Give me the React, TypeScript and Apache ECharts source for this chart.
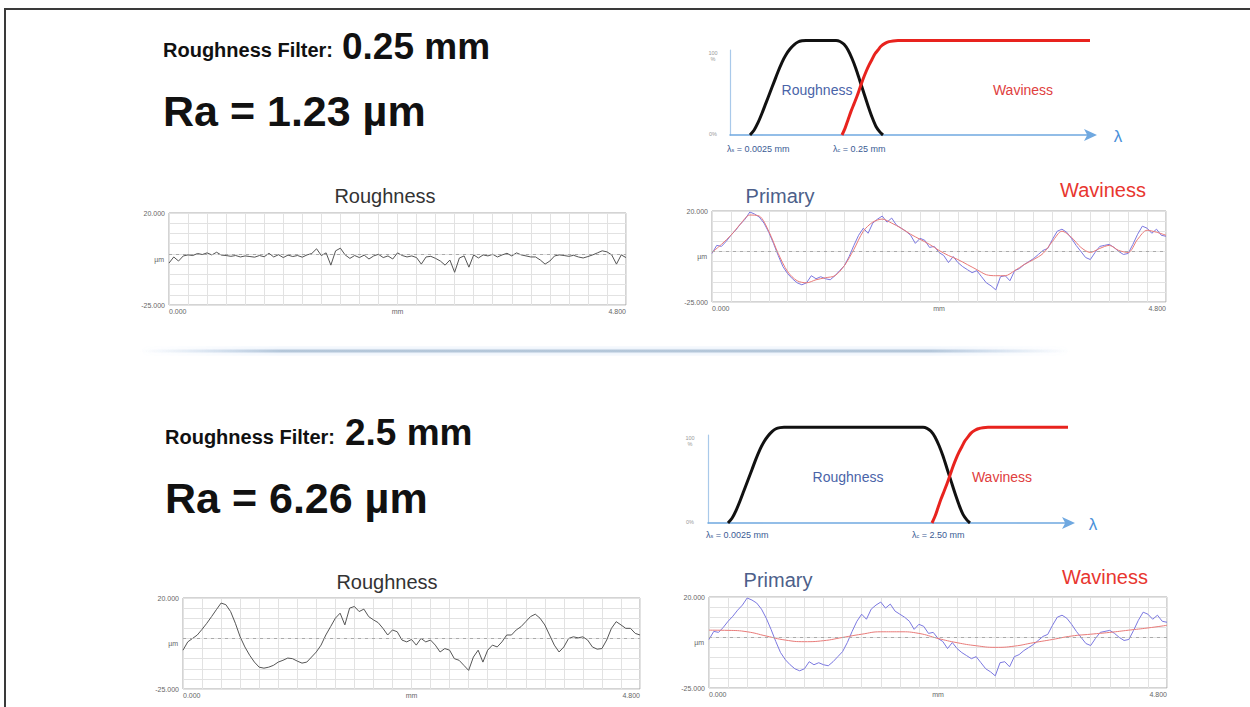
import React, { useEffect, useRef } from "react";
import * as echarts from "echarts";

// ---------- DATA ----------
// Profile sampling positions (mm)
const distanceMm = [0,0.05,0.1,0.15,0.2,0.25,0.3,0.35,0.4,0.45,0.5,0.55,0.6,0.65,0.7,0.75,0.8,0.85,0.9,0.95,1,1.05,1.1,1.15,1.2,1.25,1.3,1.35,1.4,1.45,1.5,1.55,1.6,1.65,1.7,1.75,1.8,1.85,1.9,1.95,2,2.05,2.1,2.15,2.2,2.25,2.3,2.35,2.4,2.45,2.5,2.55,2.6,2.65,2.7,2.75,2.8,2.85,2.9,2.95,3,3.05,3.1,3.15,3.2,3.25,3.3,3.35,3.4,3.45,3.5,3.55,3.6,3.65,3.7,3.75,3.8,3.85,3.9,3.95,4,4.05,4.1,4.15,4.2,4.25,4.3,4.35,4.4,4.45,4.5,4.55,4.6,4.65,4.7,4.75,4.8];

// Primary profile (µm) — same measured profile in both rows
const primaryProfile = [-1,3,2.5,5,8,10.5,13.5,16,19.5,18.5,17,14,9.5,4,-2,-7.5,-11,-13.5,-15.5,-16.5,-15.5,-12,-13.5,-12.5,-13.5,-14,-12,-9.5,-7,-2.5,3,8,11.5,9,14,16,17.5,14.5,16.5,13,11.5,10,8,4,6.5,5.5,2,2.5,-0.5,-2,-5.5,-2.5,-5.5,-7.5,-9,-10.5,-9.5,-12.5,-15.5,-17,-19,-12.5,-12,-14.5,-9.5,-8.5,-6.5,-5,-3.5,-1.5,0.5,1.5,6,10,11,9.5,6.5,3,0,-3,-4,-0.5,2.5,3,3.5,2,0,-1.5,-1,3.5,8.5,12.5,11.5,9,11,8,7.5];

// Roughness with 0.25 mm filter (µm)
const roughnessFine = [-4.5,-1.5,-3.5,-1,-0.5,-0.8,0.2,-0.3,0.5,-0.5,0.8,-0.6,-0.8,-1.2,-0.8,-1.5,-1,-1.3,-1.6,-0.8,-1.4,0.3,-1.5,-0.4,-1.8,-0.6,-1.3,-0.8,-1.6,-0.5,0.2,2.5,-0.8,0.5,-5.5,1.5,2.8,-0.5,-2.2,-0.8,-1.8,-0.6,-2.5,-1,-0.2,-1.8,-1,-2.5,0.5,-0.8,-1.5,-1,-1.8,-5,-1.5,-1.2,-2.2,-3.5,-5.5,-3,-9,-2,-1,-6.5,-0.5,-2,-0.5,-1,-0.2,-1.5,-0.5,0.3,-1,0.5,-0.5,-1,-1.5,-1.5,-3,-5,-3.5,-1,-0.5,-0.8,-1.2,-0.7,-1.5,-2,-1.3,-0.5,0.5,1.5,1,-0.5,-5,-0.5,-1.8];

// Roughness with 2.5 mm filter (µm)
const roughnessCoarse = [-5.8,-1.7,0,1.7,4.5,7.5,10.8,14.2,17.5,16.7,13.3,7.5,0.8,-4.2,-8.3,-11.7,-14.2,-14.7,-14.2,-13.3,-11.7,-10.8,-9.7,-10,-11.2,-12.2,-11.7,-9.2,-6.7,-3.3,1.7,5.8,10,12.5,6.7,15,15.8,13.3,14.5,10.8,9.2,7.8,5,1.7,4.2,3.3,-0.8,-1.7,-0.5,-3.3,0,-1.7,-0.8,-3.3,-6.7,-5,-5.8,-10,-10.8,-13.3,-15.8,-9.2,-5.8,-11.7,-5.8,-3.3,-4.2,-1.7,1.7,1.7,4.2,5.8,8.3,10.8,12,10,6.7,1.7,-3.3,-6.7,-4.2,0,0.8,0.3,0.8,-0.8,-4.2,-5.3,-5,-0.8,5,8.3,6.7,5,5,2.5,1.7];

// Waviness with 0.25 mm filter (µm)
const wavinessFineMm = [0,0.1,0.2,0.3,0.4,0.5,0.6,0.7,0.8,0.9,1,1.1,1.2,1.3,1.4,1.5,1.6,1.7,1.8,1.9,2,2.1,2.2,2.3,2.4,2.5,2.6,2.7,2.8,2.9,3,3.1,3.2,3.3,3.4,3.5,3.6,3.7,3.8,3.9,4,4.1,4.2,4.3,4.4,4.5,4.6,4.7,4.8];
const wavinessFine = [-0.5,3.5,8,13.5,18,17.5,10,-1,-10,-14.5,-15.5,-14,-13,-12,-7,1,10,14.5,16,14,11.5,8.5,6,3.5,0.5,-2,-4,-6.5,-9,-11.5,-12,-12,-9.5,-6.5,-4,-1,5,10,7,2,-0.5,1.5,3,0.5,-0.5,6,10.5,9.5,8];

// Waviness with 2.5 mm filter (µm)
const wavinessCoarseMm = [0,0.2,0.4,0.6,0.8,1,1.2,1.4,1.6,1.8,2,2.2,2.4,2.6,2.8,3,3.2,3.4,3.6,3.8,4,4.2,4.4,4.6,4.8];
const wavinessCoarse = [3.6,3.5,2.8,0.7,-1.3,-2.1,-1.6,0,1.6,2.8,2.8,2,-0.5,-2.6,-4.1,-4.9,-4.3,-2.6,-1,0.7,1.6,2.5,3.6,4.7,6];

// Filter transmission curves (wavelength position along axis, % transmitted)
const roughFilterFineX = [20,24,28,32,36,40,44,48,52,56,60,64,68,72,76,106,110,114,118,122,126,130,134,138,142,146,150,153];
const roughFilterFineY = [0,5,13,23,34,45,56,67,77,85,91,95.5,98.5,99.7,100,100,99,96,90,81,70,57,44,31,19,9,3,0];
const wavFilterFineX = [112,115,118,121,124,127,130,133,136,139,142,145,148,151,155,159,163,168,360];
const wavFilterFineY = [0,7,16,25,33,41,50,59,67,74,80,86,90,94,97,98.8,99.6,100,100];
const roughFilterCoarseX = [20,24,28,32,36,40,44,48,52,56,60,64,68,72,76,215,219,223,227,231,235,239,243,247,251,255,259,262];
const roughFilterCoarseY = [0,5,13,23,34,45,56,67,77,85,91,95.5,98.5,99.7,100,100,99,96,90,81,70,57,44,31,19,9,3,0];
const wavFilterCoarseX = [224,227,230,233,236,239,242,245,248,251,254,257,260,263,267,271,275,280,360];
const wavFilterCoarseY = [0,7,16,25,33,41,50,59,67,74,80,86,90,94,97,98.8,99.6,100,100];

// Tick labels
const xEndLabels = ["0.000", "4.800"];
const yEndLabels = ["20.000", "-25.000"];
const xName = "mm";
const yName = "µm";

// ---------- HELPERS ----------
const FONT = "'Liberation Sans', Arial, Helvetica, sans-serif";
const pair = (xs: number[], ys: number[]) => xs.map((x, i) => [x, ys[i]]);

const profileGrids = [
  { left: 169, top: 213, width: 457, height: 92 },
  { left: 712, top: 211, width: 454, height: 91 },
  { left: 183, top: 598, width: 457, height: 91 },
  { left: 709, top: 597, width: 458, height: 91 },
];

function profileX(gridIndex: number) {
  return {
    type: "value", gridIndex, min: 0, max: 4.8, interval: 0.2,
    name: xName, nameLocation: "middle", nameGap: 3, nameMoveOverlap: false,
    nameTextStyle: { fontSize: 7, color: "#666", fontFamily: FONT, verticalAlign: "top" },
    axisLine: { show: false }, axisTick: { show: false },
    axisLabel: {
      fontSize: 7, color: "#666", fontFamily: FONT, margin: 3,
      alignMinLabel: "left", alignMaxLabel: "right",
      formatter: (v: number) => (Math.abs(v) < 1e-6 ? xEndLabels[0] : Math.abs(v - 4.8) < 1e-6 ? xEndLabels[1] : ""),
    },
    splitLine: { show: true, lineStyle: { color: "#e2e2e2", width: 1 } },
  };
}
function profileY(gridIndex: number) {
  return {
    type: "value", gridIndex, min: -25, max: 20, interval: 5,
    name: yName, nameLocation: "middle", nameGap: 5, nameRotate: 0, nameMoveOverlap: false,
    nameTextStyle: { fontSize: 7, color: "#666", fontFamily: FONT, align: "right" },
    axisLine: { show: false }, axisTick: { show: false },
    axisLabel: {
      fontSize: 7, color: "#666", fontFamily: FONT, margin: 4,
      formatter: (v: number) => (v === 20 ? yEndLabels[0] : v === -25 ? yEndLabels[1] : ""),
    },
    splitLine: { show: true, lineStyle: { color: "#e2e2e2", width: 1 } },
  };
}
const zeroLine = {
  silent: true, symbol: "none", label: { show: false },
  lineStyle: { type: [3, 4], color: "#aaa", width: 1 },
  data: [{ yAxis: 0 }],
};
function profileLine(idx: number, data: any, color: string, smooth: any, withZero: boolean) {
  return {
    type: "line", xAxisIndex: idx, yAxisIndex: idx, data, showSymbol: false, symbol: "none",
    smooth, lineStyle: { color, width: 1 }, z: 3,
    markLine: withZero ? zeroLine : undefined,
  };
}

function text(x: number, y: number, t: string, size: number, color: string, opts: any = {}) {
  return {
    type: "text", x, y, z: 10,
    style: { text: t, fontSize: size, fontFamily: FONT, fill: color, verticalAlign: "middle", align: "left", ...opts },
  };
}
function lambdaLabel(x: number, y: number, sub: string, rest: string) {
  return {
    type: "text", x, y, z: 10,
    style: {
      text: `{l|λ}{s|${sub}}{l| = ${rest}}`, verticalAlign: "middle", align: "left",
      rich: {
        l: { fontSize: 9, fontFamily: FONT, fill: "#3b5b94", lineHeight: 12, verticalAlign: "bottom" },
        s: { fontSize: 5.5, fontFamily: FONT, fill: "#3b5b94", lineHeight: 12, verticalAlign: "bottom" },
      },
    },
  };
}

export default function App() {
  const ref = useRef<HTMLDivElement>(null);
  useEffect(() => {
    if (!ref.current) return;
    const chart = echarts.init(ref.current, undefined, { renderer: "svg" });

    const diagramAxisColor = "#6fa8e0";
    const diagX = (gridIndex: number) => ({
      type: "value", gridIndex, min: 0, max: 360,
      axisLine: { show: true, symbol: ["none", "arrow"], symbolSize: [9, 13], symbolOffset: [0, 7], lineStyle: { color: diagramAxisColor, width: 1.5 } },
      axisTick: { show: false }, axisLabel: { show: false }, splitLine: { show: false },
    });
    const diagY = (gridIndex: number, max: number) => ({
      type: "value", gridIndex, min: 0, max,
      axisLine: { show: true, lineStyle: { color: "#a9c9ea", width: 1.2 } },
      axisTick: { show: false }, axisLabel: { show: false }, splitLine: { show: false },
    });
    const filterLine = (idx: number, data: any, color: string) => ({
      type: "line", xAxisIndex: idx, yAxisIndex: idx, data, showSymbol: false, symbol: "none",
      smooth: 0.3, clip: false, lineStyle: { color, width: 3 }, z: 4,
    });

    const option: any = {
      animation: false,
      backgroundColor: "#ffffff",
      grid: [
        { left: 730, top: 50, width: 360, height: 85 },
        { left: 708, top: 435, width: 360, height: 88 },
        ...profileGrids.map((g) => ({ ...g, show: true, borderColor: "#a8a8a8", borderWidth: 1 })),
      ],
      xAxis: [diagX(0), diagX(1), profileX(2), profileX(3), profileX(4), profileX(5)],
      yAxis: [diagY(0, 90), diagY(1, 92), profileY(2), profileY(3), profileY(4), profileY(5)],
      series: [
        filterLine(0, pair(roughFilterFineX, roughFilterFineY), "#111111"),
        filterLine(0, pair(wavFilterFineX, wavFilterFineY), "#e8231e"),
        filterLine(1, pair(roughFilterCoarseX, roughFilterCoarseY), "#111111"),
        filterLine(1, pair(wavFilterCoarseX, wavFilterCoarseY), "#e8231e"),
        profileLine(2, pair(distanceMm, roughnessFine), "#555555", false, true),
        profileLine(3, pair(distanceMm, primaryProfile), "#7b78e0", false, true),
        profileLine(3, pair(wavinessFineMm, wavinessFine), "#e87a78", 0.3, false),
        profileLine(4, pair(distanceMm, roughnessCoarse), "#555555", false, true),
        profileLine(5, pair(distanceMm, primaryProfile), "#7b78e0", false, true),
        profileLine(5, pair(wavinessCoarseMm, wavinessCoarse), "#e87a78", 0.5, false),
      ],
      graphic: [
        { type: "polyline", z: 20, shape: { points: [[5, 707], [5, 9], [1250, 9]] }, style: { stroke: "#3a3a3a", lineWidth: 2, fill: "none" } },
        {
          type: "rect", z: 1, shape: { x: 140, y: 349.5, width: 930, height: 3 },
          style: {
            fill: new echarts.graphic.LinearGradient(0, 0, 1, 0, [
              { offset: 0, color: "rgba(190,210,235,0)" },
              { offset: 0.15, color: "rgba(175,195,215,0.9)" },
              { offset: 0.85, color: "rgba(175,195,215,0.9)" },
              { offset: 1, color: "rgba(190,210,235,0)" },
            ]),
            shadowBlur: 6, shadowColor: "rgba(120,170,230,0.45)",
          },
        },
        // headline texts
        text(163, 50, "Roughness Filter:", 20, "#111", { fontWeight: "bold" }),
        text(342, 46, "0.25 mm", 37, "#111", { fontWeight: "bold" }),
        text(163, 111, "Ra = 1.23 µm", 43, "#111", { fontWeight: "bold" }),
        text(165, 437, "Roughness Filter:", 20, "#111", { fontWeight: "bold" }),
        text(345, 432, "2.5 mm", 37, "#111", { fontWeight: "bold" }),
        text(165, 498, "Ra = 6.26 µm", 43, "#111", { fontWeight: "bold" }),
        // chart titles
        text(385, 196, "Roughness", 20, "#333", { align: "center" }),
        text(780, 196, "Primary", 20, "#4d5f8a", { align: "center" }),
        text(1103, 190, "Waviness", 20, "#e8362f", { align: "center" }),
        text(387, 582, "Roughness", 20, "#333", { align: "center" }),
        text(778, 580, "Primary", 20, "#4d5f8a", { align: "center" }),
        text(1105, 577, "Waviness", 20, "#e8362f", { align: "center" }),
        // filter diagram texts (top)
        text(817, 90, "Roughness", 14, "#4a64a8", { align: "center" }),
        text(1023, 90, "Waviness", 14, "#e04040", { align: "center" }),
        text(713, 56, "100\n%", 5.5, "#999", { align: "center", lineHeight: 6 }),
        text(713, 134, "0%", 5.5, "#999", { align: "center" }),
        text(1118, 136, "λ", 17, "#4a90d9", { align: "center" }),
        lambdaLabel(727, 147, "s", "0.0025 mm"),
        lambdaLabel(833, 147, "c", "0.25 mm"),
        // filter diagram texts (bottom)
        text(848, 477, "Roughness", 14, "#4a64a8", { align: "center" }),
        text(1002, 477, "Waviness", 14, "#e04040", { align: "center" }),
        text(690, 441, "100\n%", 5.5, "#999", { align: "center", lineHeight: 6 }),
        text(690, 522, "0%", 5.5, "#999", { align: "center" }),
        text(1093, 524, "λ", 17, "#4a90d9", { align: "center" }),
        lambdaLabel(706, 533, "s", "0.0025 mm"),
        lambdaLabel(912, 533, "c", "2.50 mm"),
      ],
    };
    chart.setOption(option);
    return () => chart.dispose();
  }, []);
  return (
    <div
      ref={ref}
      style={{ position: "absolute", left: 0, top: 0, width: 1250, height: 707, background: "#fff" }}
    />
  );
}
